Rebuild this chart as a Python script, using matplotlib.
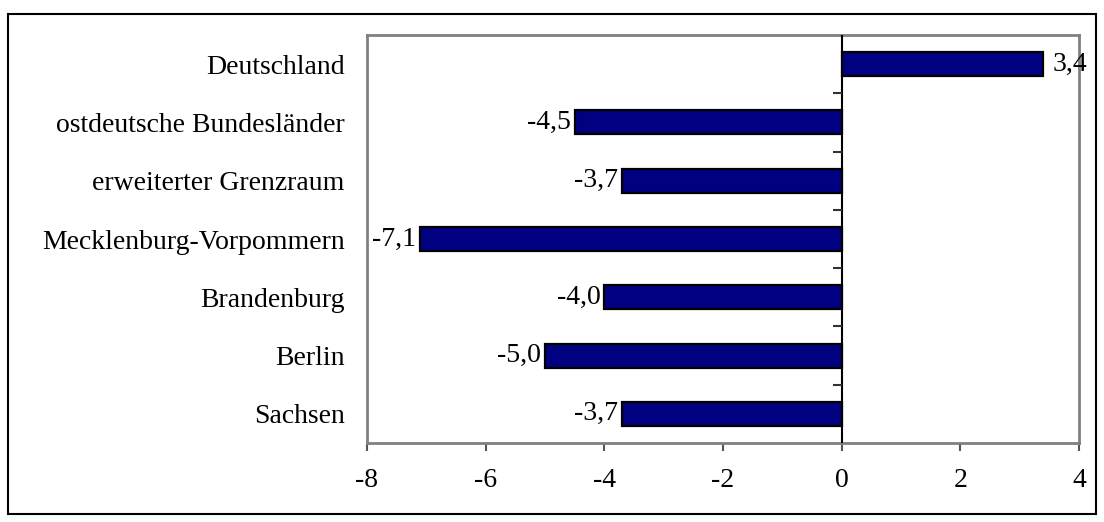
import matplotlib
matplotlib.use("Agg")
import matplotlib.pyplot as plt
from matplotlib.patches import Rectangle

categories = ["Deutschland", "ostdeutsche Bundesländer", "erweiterter Grenzraum",
              "Mecklenburg-Vorpommern", "Brandenburg", "Berlin", "Sachsen"]
values = [3.4, -4.5, -3.7, -7.1, -4.0, -5.0, -3.7]
xticks = [-8, -6, -4, -2, 0, 2, 4]

plt.rcParams['font.family'] = ['Liberation Serif', 'DejaVu Serif']
FS = 20

W, H = 1104, 522
fig = plt.figure(figsize=(W / 100, H / 100), dpi=100)
ax = fig.add_axes([367 / W, 1 - 443 / H, (1079 - 367) / W, (443 - 35) / H])

ypos = list(range(len(categories)))
ax.barh(ypos, values, height=0.41, color="#000080", edgecolor="black", linewidth=1.6, zorder=3)

ax.set_xlim(-8, 4)
ax.set_ylim(len(categories) - 0.5, -0.5)
ax.set_xticks(xticks)
ax.set_xticklabels([str(t) for t in xticks], fontsize=FS)
ax.set_yticks(ypos)
ax.set_yticklabels(categories, fontsize=FS)
ax.tick_params(axis="y", length=0, pad=16)
ax.tick_params(axis="x", direction="out", length=6, width=1.5, color="#555555", pad=12)

for s in ax.spines.values():
    s.set_color("#808080")
    s.set_linewidth(2)

# zero (category) axis with ticks at category boundaries
ax.axvline(0, color="black", linewidth=1.5, zorder=4)
for b in range(len(categories) - 1):
    ax.plot([-9 / 59.3, 0], [b + 0.5, b + 0.5], color="#333333", linewidth=1.5, zorder=4,
            solid_capstyle="butt")

for y, v in zip(ypos, values):
    txt = f"{v:.1f}".replace(".", ",")
    if v < 0:
        ax.annotate(txt, xy=(v, y), xytext=(-4, 0), textcoords="offset pixels",
                    ha="right", va="center", fontsize=FS)
    else:
        ax.annotate(txt, xy=(v, y), xytext=(9, 0), textcoords="offset pixels",
                    ha="left", va="center", fontsize=FS)

# outer border
fig.patches.append(Rectangle((8 / W, 1 - 514 / H), (1096 - 8) / W, (514 - 14) / H,
                             transform=fig.transFigure, fill=False,
                             edgecolor="black", linewidth=1.5))

fig.savefig("out.png", dpi=100)
